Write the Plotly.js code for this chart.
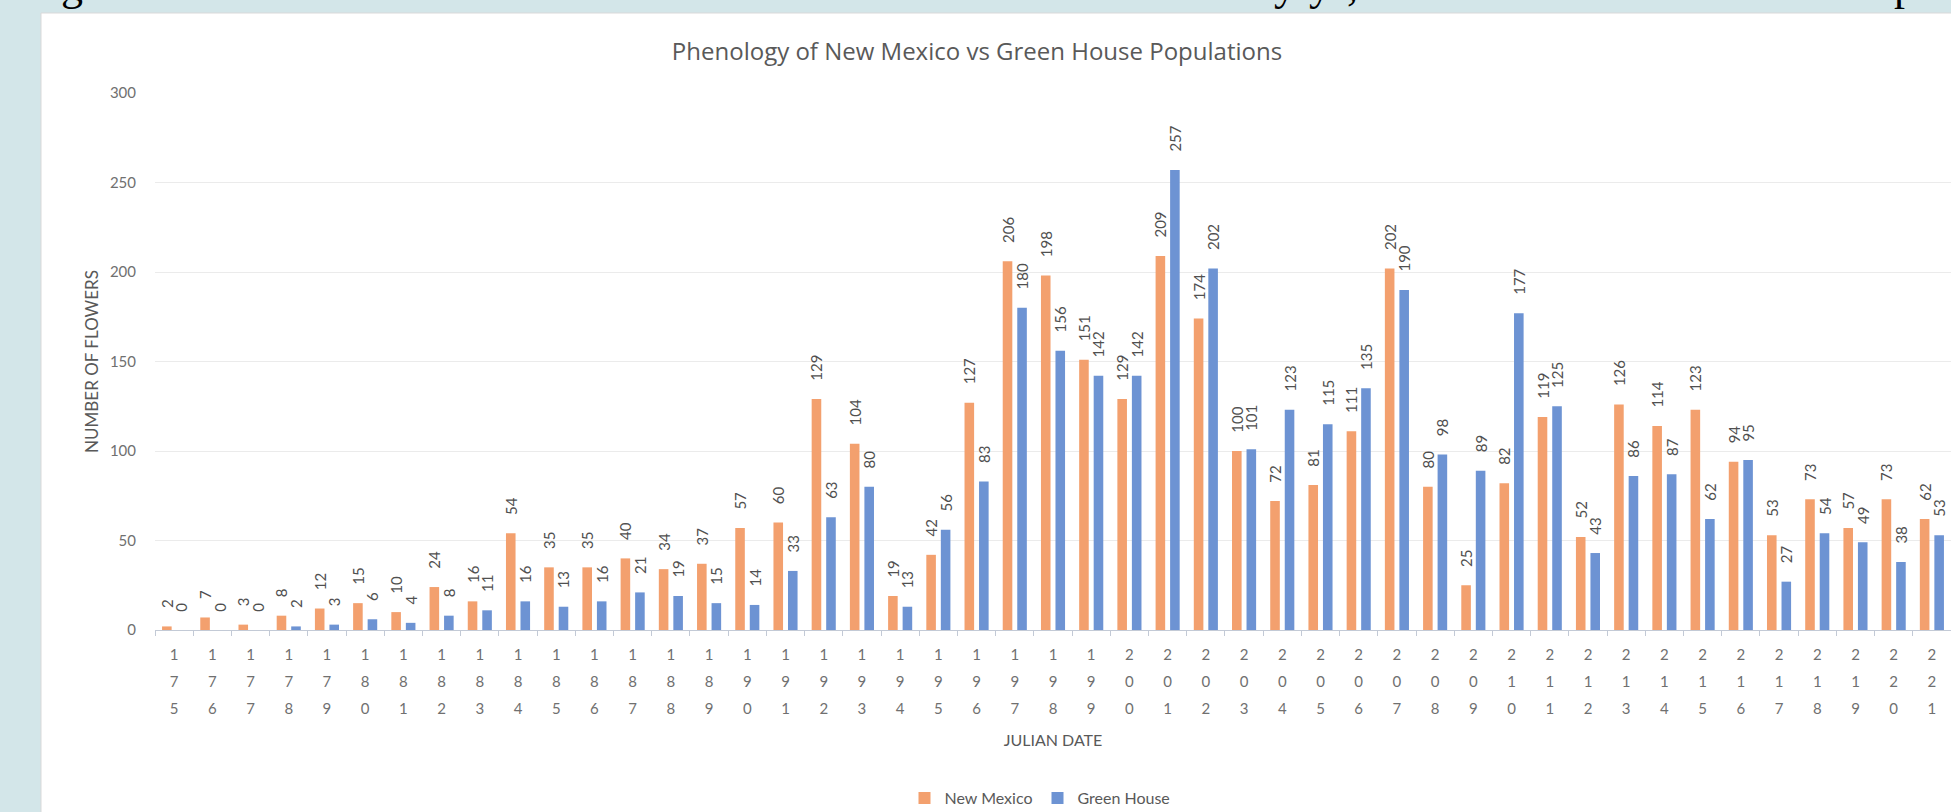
<!DOCTYPE html>
<html>
<head>
<meta charset="utf-8">
<script src="https://cdn.plot.ly/plotly-3.0.1.min.js"></script>
<style>
  html, body { margin: 0; padding: 0; background: #D3E6E9; }
  #chart { width: 1951px; height: 812px; }
</style>
</head>
<body>
<div id="chart"></div>
<script>
// ---- Data ----
const julianDates = ['175','176','177','178','179','180','181','182','183','184','185','186','187','188','189','190',
  '191','192','193','194','195','196','197','198','199','200','201','202','203','204','205','206','207','208','209',
  '210','211','212','213','214','215','216','217','218','219','220','221'];
const newMexico = [2,7,3,8,12,15,10,24,16,54,35,35,40,34,37,57,60,129,104,19,42,127,206,198,151,129,209,174,100,72,81,111,202,80,25,82,119,52,126,114,123,94,53,73,57,73,62];
const greenHouse = [0,0,0,2,3,6,4,8,11,16,13,16,21,19,15,14,33,63,80,13,56,83,180,156,142,142,257,202,101,123,115,135,190,98,89,177,125,43,86,87,62,95,27,54,49,38,53];
// stacked (vertical) tick label rows: hundreds, tens, units
const tickRow1 = julianDates.map(d => d.charAt(0));
const tickRow2 = julianDates.map(d => d.charAt(1));
const tickRow3 = julianDates.map(d => d.charAt(2));
const tickIndex = julianDates.map((d, i) => i);
const yTicks = [0, 50, 100, 150, 200, 250, 300];
const seriesNames = ['New Mexico', 'Green House'];

// ---- layout geometry (pixels) ----
const W = 1951, H = 812;
const M = { l: 155, r: 0, t: 93, b: 60 };
const plotH = H - M.t - M.b;
const plotW = W - M.l - M.r;
const zeroPx = 630;
const py = px => (H - M.b - px) / plotH;
const pxX = px => (px - M.l) / plotW;
const yDomBottom = py(zeroPx);
const row2Offset = 22;     // px below the value-0 line
const row3Offset = 48.5;

const FONT = 'Lato, "Noto Sans", sans-serif';
const labelFont = { family: FONT, size: 15, color: '#505050' };
const tickFont = { family: FONT, size: 15, color: '#707070' };
const PAD = '\u00A0\u00A0\u00A0\u00A0';   // space between bar end and its label

const traces = [
  {
    type: 'bar', name: seriesNames[0], x: julianDates, y: newMexico,
    marker: { color: '#F3A06E' },
    text: newMexico.map(v => PAD + v), textposition: 'outside', textangle: -90,
    constraintext: 'none', cliponaxis: false, textfont: labelFont,
    hoverinfo: 'x+y+name'
  },
  {
    type: 'bar', name: seriesNames[1], x: julianDates, y: greenHouse,
    marker: { color: '#6D93D3' },
    text: greenHouse.map(v => PAD + v), textposition: 'outside', textangle: -90,
    constraintext: 'none', cliponaxis: false, textfont: labelFont,
    hoverinfo: 'x+y+name'
  },
  // invisible carriers so the 2nd and 3rd tick-label rows are drawn
  { type: 'scatter', mode: 'markers', x: [0], y: [0], xaxis: 'x2', yaxis: 'y',
    marker: { opacity: 0 }, showlegend: false, hoverinfo: 'skip' },
  { type: 'scatter', mode: 'markers', x: [0], y: [0], xaxis: 'x3', yaxis: 'y',
    marker: { opacity: 0 }, showlegend: false, hoverinfo: 'skip' }
];

const serifFont = { family: '"Liberation Serif", "DejaVu Serif", serif', size: 44, color: '#000000' };
function topGlyph(ch, px) {
  return { text: ch, xref: 'paper', yref: 'paper', x: pxX(px), y: py(12), xanchor: 'center', yanchor: 'bottom',
           showarrow: false, font: serifFont };
}

const rowAxis = (offset, labels) => ({
  type: 'linear', overlaying: 'x', anchor: 'free', position: py(zeroPx + offset), side: 'bottom',
  range: [-0.5, julianDates.length - 0.5],
  tickmode: 'array', tickvals: tickIndex, ticktext: labels,
  ticks: 'outside', ticklen: 5, tickcolor: 'rgba(0,0,0,0)',
  showline: false, showgrid: false, zeroline: false, tickfont: tickFont, ticklabelstandoff: 11,
  automargin: false, fixedrange: true
});

const xaxis3 = rowAxis(row3Offset, tickRow3);
xaxis3.title = { text: 'JULIAN DATE', standoff: 19, font: { family: FONT, size: 16, color: '#595959' } };

const layout = {
  width: W, height: H,
  paper_bgcolor: '#D3E6E9',
  plot_bgcolor: '#FFFFFF',
  margin: { l: M.l, r: M.r, t: M.t, b: M.b, autoexpand: false },
  barmode: 'group', bargap: 0.24, bargroupgap: 0.34,
  showlegend: true,
  title: {
    text: 'Phenology of New Mexico vs Green House Populations',
    font: { family: '"Open Sans", sans-serif', size: 24, color: '#595959' },
    xref: 'paper', x: pxX(977), xanchor: 'center',
    yref: 'container', y: 1 - 52 / H, yanchor: 'middle'
  },
  xaxis: {
    type: 'category', range: [-0.5, julianDates.length - 0.5], anchor: 'y',
    tickmode: 'array', tickvals: julianDates, ticktext: tickRow1,
    ticks: 'outside', tickson: 'boundaries', ticklen: 5, tickcolor: '#C3CAD6', tickwidth: 1,
    showline: true, linecolor: '#C3CAD6', linewidth: 1,
    showgrid: false, zeroline: false, tickfont: tickFont, ticklabelstandoff: 11,
    automargin: false, fixedrange: true
  },
  xaxis2: rowAxis(row2Offset, tickRow2),
  xaxis3: xaxis3,
  yaxis: {
    domain: [yDomBottom, 1], range: [0, 300],
    tickmode: 'array', tickvals: yTicks,
    showgrid: true, gridcolor: '#EBEBEB', gridwidth: 1,
    zeroline: false, showline: false, ticks: '',
    tickfont: tickFont, ticklabelstandoff: 18,
    title: { text: 'NUMBER OF FLOWERS', standoff: 6, font: { family: FONT, size: 17, color: '#595959' } },
    automargin: false, fixedrange: true
  },
  legend: {
    orientation: 'h', xref: 'paper', yref: 'paper',
    x: pxX(1040), xanchor: 'center', y: py(798), yanchor: 'middle',
    font: { family: FONT, size: 16, color: '#595959' },
    bgcolor: 'rgba(0,0,0,0)', itemclick: false, itemdoubleclick: false
  },
  shapes: [
    { type: 'rect', xref: 'paper', yref: 'paper', layer: 'below',
      x0: pxX(41), x1: 1.01, y0: py(H + 5), y1: py(13),
      fillcolor: '#FFFFFF', line: { color: '#D9D9D9', width: 1 } }
  ],
  annotations: [
    topGlyph('g', 72),
    topGlyph('y', 1285),
    topGlyph('y', 1320),
    topGlyph(',', 1352),
    topGlyph('p', 1905)
  ]
};

Plotly.newPlot('chart', traces, layout, { displayModeBar: false, responsive: false });
</script>
</body>
</html>
